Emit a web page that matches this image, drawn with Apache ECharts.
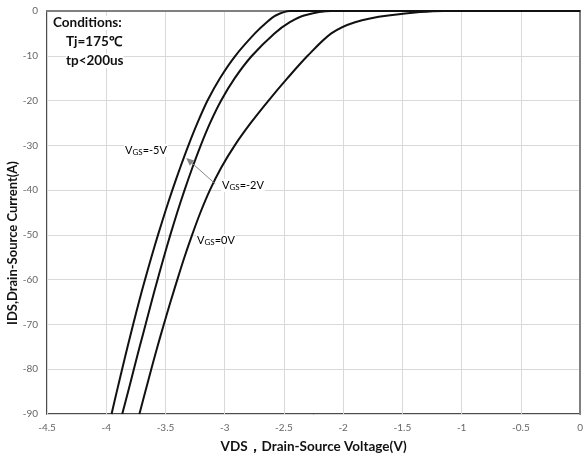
<!DOCTYPE html>
<html><head><meta charset="utf-8">
<script src="https://cdn.jsdelivr.net/npm/echarts@6/dist/echarts.min.js"></script>
<style>html,body{margin:0;padding:0;background:#fff}#c{width:586px;height:459px}</style>
</head><body><div id="c"></div>
<script>
// Drain current levels (A)
var currentLevels = [0, 0, -1, -2.5, -5, -10, -15, -20, -25, -30, -35, -40, -45, -50, -55, -60, -65, -70, -75, -80, -85, -90];
// Drain-source voltage (V) at each current level, per gate voltage
var vdsVgsNeg5 = [0, -2.45, -2.57, -2.645, -2.745, -2.91, -3.04, -3.145, -3.23, -3.306, -3.376, -3.442, -3.504, -3.563, -3.619, -3.673, -3.724, -3.773, -3.82, -3.866, -3.911, -3.955];
var vdsVgsNeg2 = [0, -2.10, -2.33, -2.45, -2.58, -2.77, -2.915, -3.03, -3.123, -3.202, -3.273, -3.339, -3.401, -3.459, -3.514, -3.567, -3.618, -3.668, -3.718, -3.767, -3.815, -3.865];
var vdsVgs0    = [0, -1.15, -1.62, -1.90, -2.10, -2.30, -2.47, -2.63, -2.78, -2.915, -3.03, -3.125, -3.205, -3.275, -3.34, -3.40, -3.458, -3.514, -3.568, -3.62, -3.67, -3.72];
var seriesNames = ['VGS=-5V', 'VGS=-2V', 'VGS=0V'];
var arrowFrom = [-3.30, -33.4];
var arrowTo = [-3.08, -38.6];

function pairs(v){ return v.map(function(x,i){ return [x, currentLevels[i]]; }); }
var FONT = 'Lato, "Open Sans", sans-serif';
var chart = echarts.init(document.getElementById('c'));
var lineSeries = [vdsVgsNeg5, vdsVgsNeg2, vdsVgs0].map(function(v, i){
  return {name: seriesNames[i], type:'line', data: pairs(v), smooth:0.3, showSymbol:false,
    lineStyle:{color:'#111', width:2}, z:3};
});
lineSeries.push({type:'line', data:[], markLine:{silent:true, symbol:['triangle','none'], symbolSize:[7,8],
  itemStyle:{color:'#888'},
  lineStyle:{color:'#888', width:1, type:'solid'}, label:{show:false},
  data:[[{coord:arrowFrom},{coord:arrowTo}]]}, z:4});
var rich = {v:{fontFamily:FONT, fontSize:11, color:'#111'}, s:{fontFamily:FONT, fontSize:8, color:'#111', padding:[3,0,0,0]}};
function vgsLabel(x, y, txt){
  return {type:'text', left:x, top:y, z:10, style:{rich:rich, text:txt, backgroundColor:'#fff', padding:[1,1,1,1]}};
}
var condStyle = {fontFamily:FONT, fontWeight:'bold', fontSize:13.5, fill:'#111', backgroundColor:'#fff'};
chart.setOption({
  animation:false,
  grid:{left:47, right:4, top:11, bottom:45, show:true, borderColor:'#111', borderWidth:1.5},
  xAxis:{type:'value', min:-4.5, max:0, interval:0.5,
    name:'VDS，Drain-Source Voltage(V)', nameLocation:'middle', nameGap:26,
    nameTextStyle:{fontFamily:FONT, fontWeight:'bold', fontSize:13.5, color:'#111'},
    axisLine:{lineStyle:{color:'#808080', width:2}}, axisTick:{show:false},
    axisLabel:{fontFamily:FONT, fontSize:10, color:'#666', margin:9},
    splitLine:{lineStyle:{color:'#d9d9d9', width:1}}},
  yAxis:{type:'value', min:-90, max:0, interval:10,
    axisLine:{lineStyle:{color:'#808080', width:2}}, axisTick:{show:false},
    axisLabel:{fontFamily:FONT, fontSize:10, color:'#666', margin:9},
    splitLine:{lineStyle:{color:'#d9d9d9', width:1}}},
  graphic:[
    {type:'text', x:13, y:243, rotation:Math.PI/2, style:{text:'IDS,Drain-Source Current(A)', fontFamily:FONT, fontWeight:'bold', fontSize:13, fill:'#111', align:'center', verticalAlign:'middle'}},
    {type:'text', left:53, top:16, z:10, style:Object.assign({text:'Conditions:'}, condStyle)},
    {type:'text', left:66, top:35, z:10, style:Object.assign({text:'Tj=175℃'}, condStyle)},
    {type:'text', left:66, top:54, z:10, style:Object.assign({text:'tp<200us'}, condStyle)},
    vgsLabel(124, 144, '{v|V}{s|GS}{v|=-5V}'),
    vgsLabel(221, 179, '{v|V}{s|GS}{v|=-2V}'),
    vgsLabel(196, 234, '{v|V}{s|GS}{v|=0V}')
  ],
  series: lineSeries
});
</script></body></html>
